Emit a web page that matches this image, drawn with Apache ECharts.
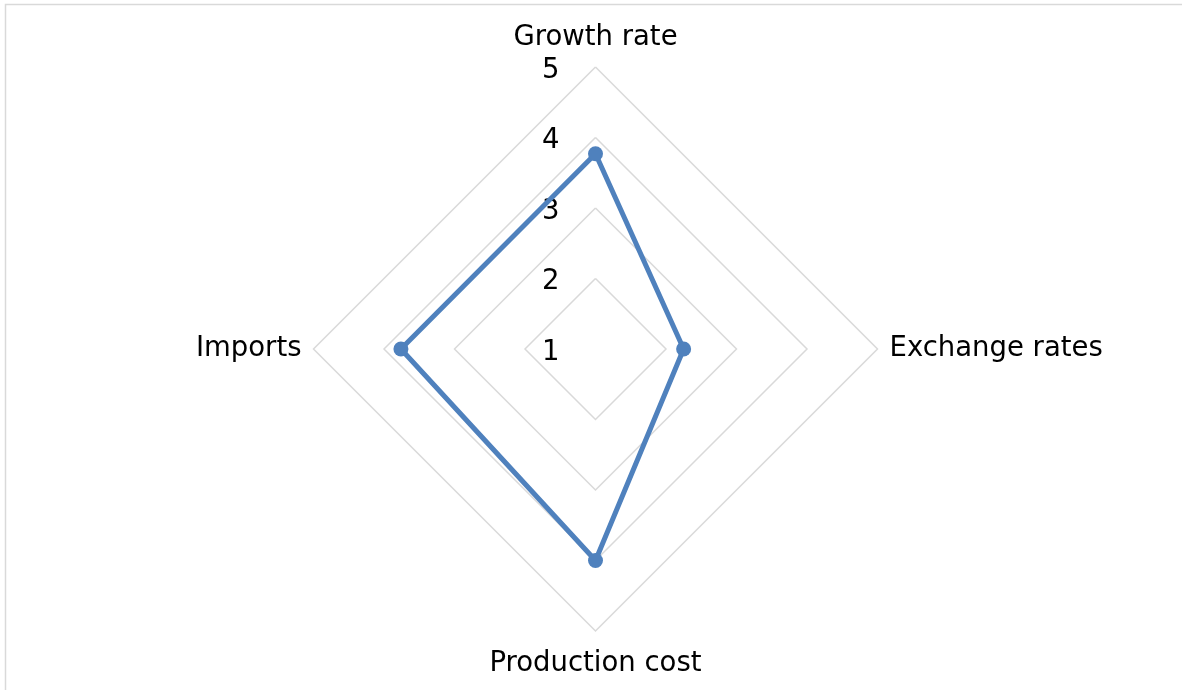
<!DOCTYPE html>
<html>
<head>
<meta charset="utf-8">
<style>
  html, body { margin: 0; padding: 0; background: #ffffff; }
  #chart { width: 1182px; height: 690px; }
</style>
<script src="https://cdn.jsdelivr.net/npm/echarts@6/dist/echarts.min.js"></script>
</head>
<body>
<div id="chart"></div>
<script>
// Indicators listed counterclockwise starting from the top spoke
const indicatorNames = ['Growth rate', 'Imports', 'Production cost', 'Exchange rates'];
const scores = [3.77, 3.76, 4.0, 2.25];
const scaleMin = 1;
const scaleMax = 5;

const FONT = '"DejaVu Sans", sans-serif';
const chart = echarts.init(document.getElementById('chart'));

chart.setOption({
  animation: false,
  backgroundColor: '#ffffff',
  graphic: [{
    type: 'rect',
    shape: { x: 5.5, y: 4.5, width: 1200, height: 700 },
    style: { fill: 'none', stroke: '#d9d9d9', lineWidth: 1.5 },
    silent: true
  }],
  radar: {
    center: [595.5, 349],
    radius: 282,
    shape: 'polygon',
    splitNumber: 4,
    startAngle: 90,
    axisName: {
      color: '#000000',
      fontFamily: FONT,
      fontSize: 27.5,
      padding: [7, 0, 3, 0]
    },
    nameGap: 12,
    axisLine: { show: false },
    axisTick: { show: false },
    axisLabel: { show: false },
    splitArea: { show: false },
    splitLine: { lineStyle: { color: '#d9d9d9', width: 1.5 } },
    indicator: indicatorNames.map((name, i) => {
      const ind = { name: name, min: scaleMin, max: scaleMax };
      if (i === 0) {
        ind.axisLabel = {
          show: true,
          color: '#000000',
          fontFamily: FONT,
          fontSize: 27.5,
          margin: 36,
          formatter: '{v|{value}}',
          rich: {
            v: {
              color: '#000000',
              fontFamily: FONT,
              fontSize: 27.5,
              padding: [7, 0, 0, 0]
            }
          }
        };
      }
      return ind;
    })
  },
  series: [{
    type: 'radar',
    symbol: 'circle',
    symbolSize: 15,
    lineStyle: { color: '#4f81bd', width: 5 },
    itemStyle: { color: '#4f81bd' },
    data: [{ value: scores, name: 'Score' }]
  }]
});
</script>
</body>
</html>
